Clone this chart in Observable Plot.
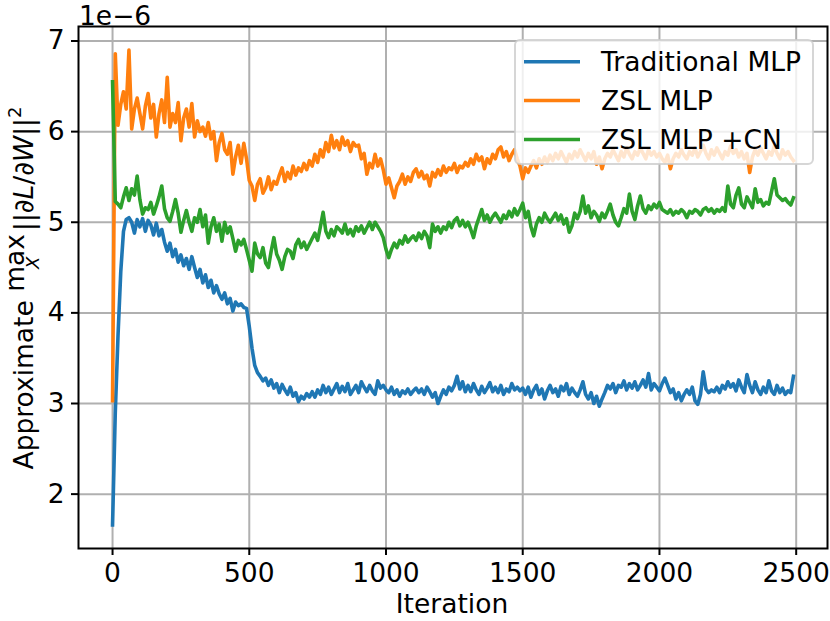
<!DOCTYPE html>
<html>
<head>
<meta charset="utf-8">
<script src="https://cdn.jsdelivr.net/npm/d3@7"></script>
<script src="https://cdn.jsdelivr.net/npm/@observablehq/plot@0.6"></script>
<style>
html, body { margin: 0; padding: 0; background: white; }
#chart { width: 830px; height: 621px; }
</style>
</head>
<body>
<div id="chart"></div>
<script>
const seriesNames = ["Traditional MLP", "ZSL MLP", "ZSL MLP +CN"];
const seriesColors = ["#1f77b4", "#ff7f0e", "#2ca02c"];
const iterStep = 10;
const xTicks = [0, 500, 1000, 1500, 2000, 2500];
const yTicks = [2, 3, 4, 5, 6, 7];
const yOffsetText = "1e\u22126";
const xLabel = "Iteration";

const traditional = [
1.66,2.90,3.75,4.45,4.90,5.03,5.05,5.00,4.88,5.03,
4.95,5.04,4.90,5.02,4.97,4.86,4.99,4.85,4.92,4.78,
4.68,4.77,4.62,4.70,4.56,4.64,4.52,4.60,4.48,4.62,
4.50,4.39,4.48,4.33,4.42,4.28,4.36,4.22,4.30,4.21,
4.15,4.22,4.10,4.16,4.02,4.12,4.08,4.10,4.06,4.05,
3.85,3.61,3.42,3.34,3.30,3.25,3.28,3.20,3.26,3.17,
3.22,3.12,3.21,3.15,3.10,3.18,3.08,3.12,3.02,3.08,
3.05,3.11,3.07,3.13,3.07,3.15,3.10,3.20,3.12,3.18,
3.10,3.16,3.22,3.12,3.19,3.13,3.22,3.10,3.15,3.20,
3.12,3.24,3.18,3.13,3.20,3.14,3.10,3.25,3.17,3.20,
3.15,3.12,3.18,3.10,3.15,3.08,3.14,3.11,3.16,3.10,
3.14,3.17,3.12,3.16,3.10,3.18,3.13,3.07,3.12,3.00,
3.08,3.15,3.10,3.18,3.14,3.20,3.30,3.16,3.24,3.13,
3.20,3.13,3.22,3.15,3.10,3.19,3.12,3.17,3.23,3.13,
3.18,3.12,3.20,3.10,3.16,3.13,3.22,3.15,3.18,3.14,
3.17,3.10,3.18,3.07,3.15,3.20,3.10,3.16,3.05,3.14,
3.20,3.12,3.16,3.08,3.19,3.14,3.22,3.10,3.17,3.12,
3.08,3.15,3.24,3.10,3.05,3.12,3.00,3.08,2.97,3.05,
3.12,3.20,3.16,3.22,3.12,3.20,3.18,3.25,3.15,3.22,
3.17,3.24,3.15,3.20,3.26,3.18,3.33,3.15,3.22,3.18,
3.14,3.22,3.28,3.20,3.12,3.16,3.05,3.12,3.03,3.10,
3.15,3.10,3.18,3.03,2.99,3.10,3.35,3.16,3.12,3.15,
3.13,3.18,3.12,3.20,3.16,3.24,3.18,3.22,3.14,3.26,
3.18,3.12,3.32,3.20,3.12,3.24,3.15,3.10,3.18,3.12,
3.25,3.14,3.10,3.20,3.12,3.17,3.10,3.14,3.12,3.30
];

const zslMlp = [
3.03,6.86,6.07,6.30,6.44,6.25,6.90,6.03,6.25,6.37,
6.20,6.03,6.28,6.42,6.15,6.30,5.94,6.20,6.35,6.10,
6.60,6.05,6.20,6.10,6.32,5.90,6.15,6.25,6.05,6.31,
5.94,6.12,6.00,6.05,5.95,6.10,5.92,6.00,5.68,5.88,
5.98,5.80,5.75,5.88,5.53,5.72,5.85,5.65,5.87,5.70,
5.46,5.40,5.24,5.42,5.48,5.32,5.38,5.50,5.36,5.45,
5.42,5.52,5.60,5.45,5.55,5.48,5.62,5.52,5.60,5.56,
5.65,5.58,5.68,5.62,5.75,5.66,5.80,5.72,5.88,5.78,
5.96,5.82,5.90,5.80,5.94,5.85,5.90,5.78,5.88,5.84,
5.85,5.70,5.76,5.53,5.65,5.60,5.75,5.62,5.70,5.58,
5.42,5.49,5.38,5.27,5.40,5.45,5.53,5.42,5.50,5.45,
5.55,5.59,5.50,5.56,5.48,5.52,5.40,5.55,5.50,5.58,
5.52,5.62,5.55,5.60,5.58,5.65,5.55,5.62,5.60,5.66,
5.62,5.70,5.64,5.75,5.68,5.72,5.59,5.70,5.65,5.75,
5.70,5.80,5.83,5.72,5.78,5.68,5.75,5.80,5.70,5.62,
5.48,5.60,5.55,5.62,5.68,5.60,5.70,5.64,5.72,5.66,
5.74,5.68,5.76,5.70,5.78,5.72,5.66,5.75,5.70,5.78,
5.72,5.80,5.74,5.68,5.76,5.70,5.78,5.64,5.72,5.59,
5.70,5.76,5.72,5.80,5.74,5.68,5.78,5.72,5.82,5.75,
5.70,5.78,5.74,5.82,5.76,5.70,5.80,5.74,5.78,5.72,
5.76,5.70,5.66,5.74,5.59,5.70,5.76,5.72,5.80,5.74,
5.70,5.78,5.74,5.82,5.72,5.78,5.85,5.76,5.70,5.80,
5.74,5.82,5.76,5.70,5.78,5.74,5.84,5.76,5.80,5.72,
5.78,5.70,5.76,5.55,5.72,5.80,5.74,5.82,5.76,5.70,
5.78,5.74,5.84,5.76,5.70,5.80,5.74,5.78,5.72,5.68
];

const zslMlpCn = [
6.55,5.23,5.20,5.16,5.28,5.38,5.24,5.37,5.30,5.51,
5.25,5.09,5.16,5.14,5.22,5.09,5.18,5.28,5.40,5.15,
5.05,5.01,5.12,5.25,5.10,4.89,5.02,5.13,5.00,4.90,
5.05,5.00,5.14,4.95,5.08,4.77,4.95,5.05,4.90,4.98,
4.79,5.00,4.88,4.95,4.82,4.68,4.80,4.75,4.81,4.70,
4.58,4.46,4.77,4.65,4.61,4.72,4.55,4.50,4.68,4.83,
4.65,4.58,4.48,4.62,4.70,4.68,4.60,4.75,4.81,4.72,
4.78,4.70,4.76,4.82,4.88,4.80,4.95,5.11,4.90,4.83,
4.92,4.85,4.95,4.92,4.88,4.98,4.87,4.92,4.85,4.95,
4.90,4.96,4.88,4.94,5.00,4.92,5.00,4.95,4.90,4.83,
4.70,4.61,4.70,4.77,4.72,4.80,4.76,4.85,4.78,4.82,
4.85,4.80,4.88,4.82,4.90,4.85,4.72,4.98,4.90,4.95,
4.88,4.95,4.92,5.00,4.94,5.02,5.05,4.96,5.02,4.95,
5.00,4.92,4.83,4.96,5.05,5.14,5.02,5.08,5.00,5.06,
5.10,5.05,5.00,5.08,5.04,5.12,5.06,5.15,5.08,5.14,
5.21,5.05,5.12,4.95,4.85,4.98,5.05,5.00,5.10,5.04,
5.00,5.05,5.10,5.02,5.08,4.98,5.04,4.89,4.96,5.10,
5.04,5.12,5.29,5.10,5.18,5.05,5.12,5.08,5.01,5.10,
5.05,5.12,5.20,5.08,5.00,4.96,5.05,5.15,5.10,5.31,
5.12,5.03,5.18,5.29,5.15,5.10,5.18,5.14,5.20,5.16,
5.22,5.14,5.12,5.10,5.14,5.08,5.12,5.10,5.14,5.11,
5.05,5.12,5.10,5.14,5.12,5.08,5.14,5.16,5.12,5.15,
5.10,5.14,5.12,5.16,5.12,5.40,5.20,5.16,5.30,5.38,
5.20,5.16,5.28,5.22,5.16,5.37,5.22,5.25,5.18,5.22,
5.20,5.34,5.48,5.30,5.27,5.24,5.26,5.22,5.19,5.27
];

const allSeries = [traditional, zslMlp, zslMlpCn];
const rows = [];
allSeries.forEach((vals, s) => {
  vals.forEach((v, i) => rows.push({series: seriesNames[s], iter: i * iterStep, value: v}));
});

const W = 830, H = 621;
const mL = 78, mR = 3, mT = 26, mB = 73;
const FS = 26.5;
const FONT = "DejaVu Sans";

const plot = Plot.plot({
  width: W,
  height: H,
  marginLeft: mL,
  marginRight: mR,
  marginTop: mT,
  marginBottom: mB,
  style: {fontFamily: FONT, fontSize: FS + "px", background: "white", color: "black", overflow: "visible"},
  x: {domain: [-124.5, 2614.5]},
  y: {domain: [1.40, 7.16]},
  color: {domain: seriesNames, range: seriesColors},
  marks: [
    Plot.gridX(xTicks, {stroke: "#b0b0b0", strokeOpacity: 1, strokeWidth: 2}),
    Plot.gridY(yTicks, {stroke: "#b0b0b0", strokeOpacity: 1, strokeWidth: 2}),
    Plot.lineY(rows, {x: "iter", y: "value", stroke: "series", z: "series", strokeWidth: 3.6, strokeLinejoin: "round", strokeLinecap: "square"}),
    Plot.axisX({ticks: xTicks, tickSize: 7, tickPadding: 8, tickFormat: d => String(d), label: null, stroke: "black", strokeWidth: 2, fontSize: FS}),
    Plot.axisY({ticks: yTicks, tickSize: 7, tickPadding: 7, tickFormat: d => String(d), label: null, stroke: "black", strokeWidth: 2, fontSize: FS}),
    Plot.frame({stroke: "black", strokeWidth: 2})
  ]
});

document.getElementById("chart").appendChild(plot);
const svg = d3.select(plot);

// x label
svg.append("text")
  .attr("x", 452).attr("y", 613)
  .attr("text-anchor", "middle")
  .attr("font-family", FONT).attr("font-size", FS)
  .attr("fill", "black")
  .text(xLabel);

// offset text
svg.append("text")
  .attr("x", 79).attr("y", 24.5)
  .attr("text-anchor", "start")
  .attr("font-family", FONT).attr("font-size", FS)
  .attr("fill", "black")
  .text(yOffsetText);

// y label (math) built from pieces
const yl = svg.append("g").attr("transform", "translate(33,288) rotate(-90)");
const small = FS * 0.68;
const pieces = [
  {t: "Approximate ", it: false},
  {t: "max", it: false, op: true, dy: -9},
  {t: "||\u2202", it: false, gap: 3},
  {t: "L", it: true},
  {t: "/\u2202", it: false},
  {t: "W", it: true},
  {t: "||", it: false},
  {t: "2", it: false, sup: true}
];
let cx = 0;
let maxStart = 0, maxW = 0;
pieces.forEach(p => {
  if (p.gap) cx += p.gap;
  const el = yl.append("text")
    .attr("x", cx)
    .attr("y", p.sup ? -12 : (p.dy || 0))
    .attr("text-anchor", "start")
    .attr("font-family", FONT)
    .attr("font-size", p.sup ? small : FS)
    .attr("font-style", p.it ? "italic" : "normal")
    .attr("fill", "black")
    .text(p.t);
  const w = el.node().getComputedTextLength();
  if (p.op) { maxStart = cx; maxW = w; }
  cx += w;
});
yl.append("text")
  .attr("x", maxStart + maxW / 2)
  .attr("y", 6)
  .attr("text-anchor", "middle")
  .attr("font-family", FONT)
  .attr("font-size", small)
  .attr("font-style", "italic")
  .attr("fill", "black")
  .text("X");
const total = cx;
yl.selectAll("text").each(function() {
  const x0 = +this.getAttribute("x");
  this.setAttribute("x", x0 - total / 2);
});

// legend
const lg = svg.append("g");
lg.append("rect")
  .attr("x", 515).attr("y", 40).attr("width", 298).attr("height", 124)
  .attr("rx", 5).attr("ry", 5)
  .attr("fill", "white").attr("fill-opacity", 0.8)
  .attr("stroke", "#cccccc").attr("stroke-opacity", 0.8).attr("stroke-width", 2);
const rowY = [61.7, 100.5, 139.5];
seriesNames.forEach((name, i) => {
  lg.append("line")
    .attr("x1", 524).attr("x2", 580)
    .attr("y1", rowY[i]).attr("y2", rowY[i])
    .attr("stroke", seriesColors[i]).attr("stroke-width", 3.6);
  lg.append("text")
    .attr("x", 601).attr("y", rowY[i] + 9.5)
    .attr("text-anchor", "start")
    .attr("font-family", FONT).attr("font-size", FS)
    .attr("fill", "black")
    .text(name);
});
</script>
</body>
</html>
